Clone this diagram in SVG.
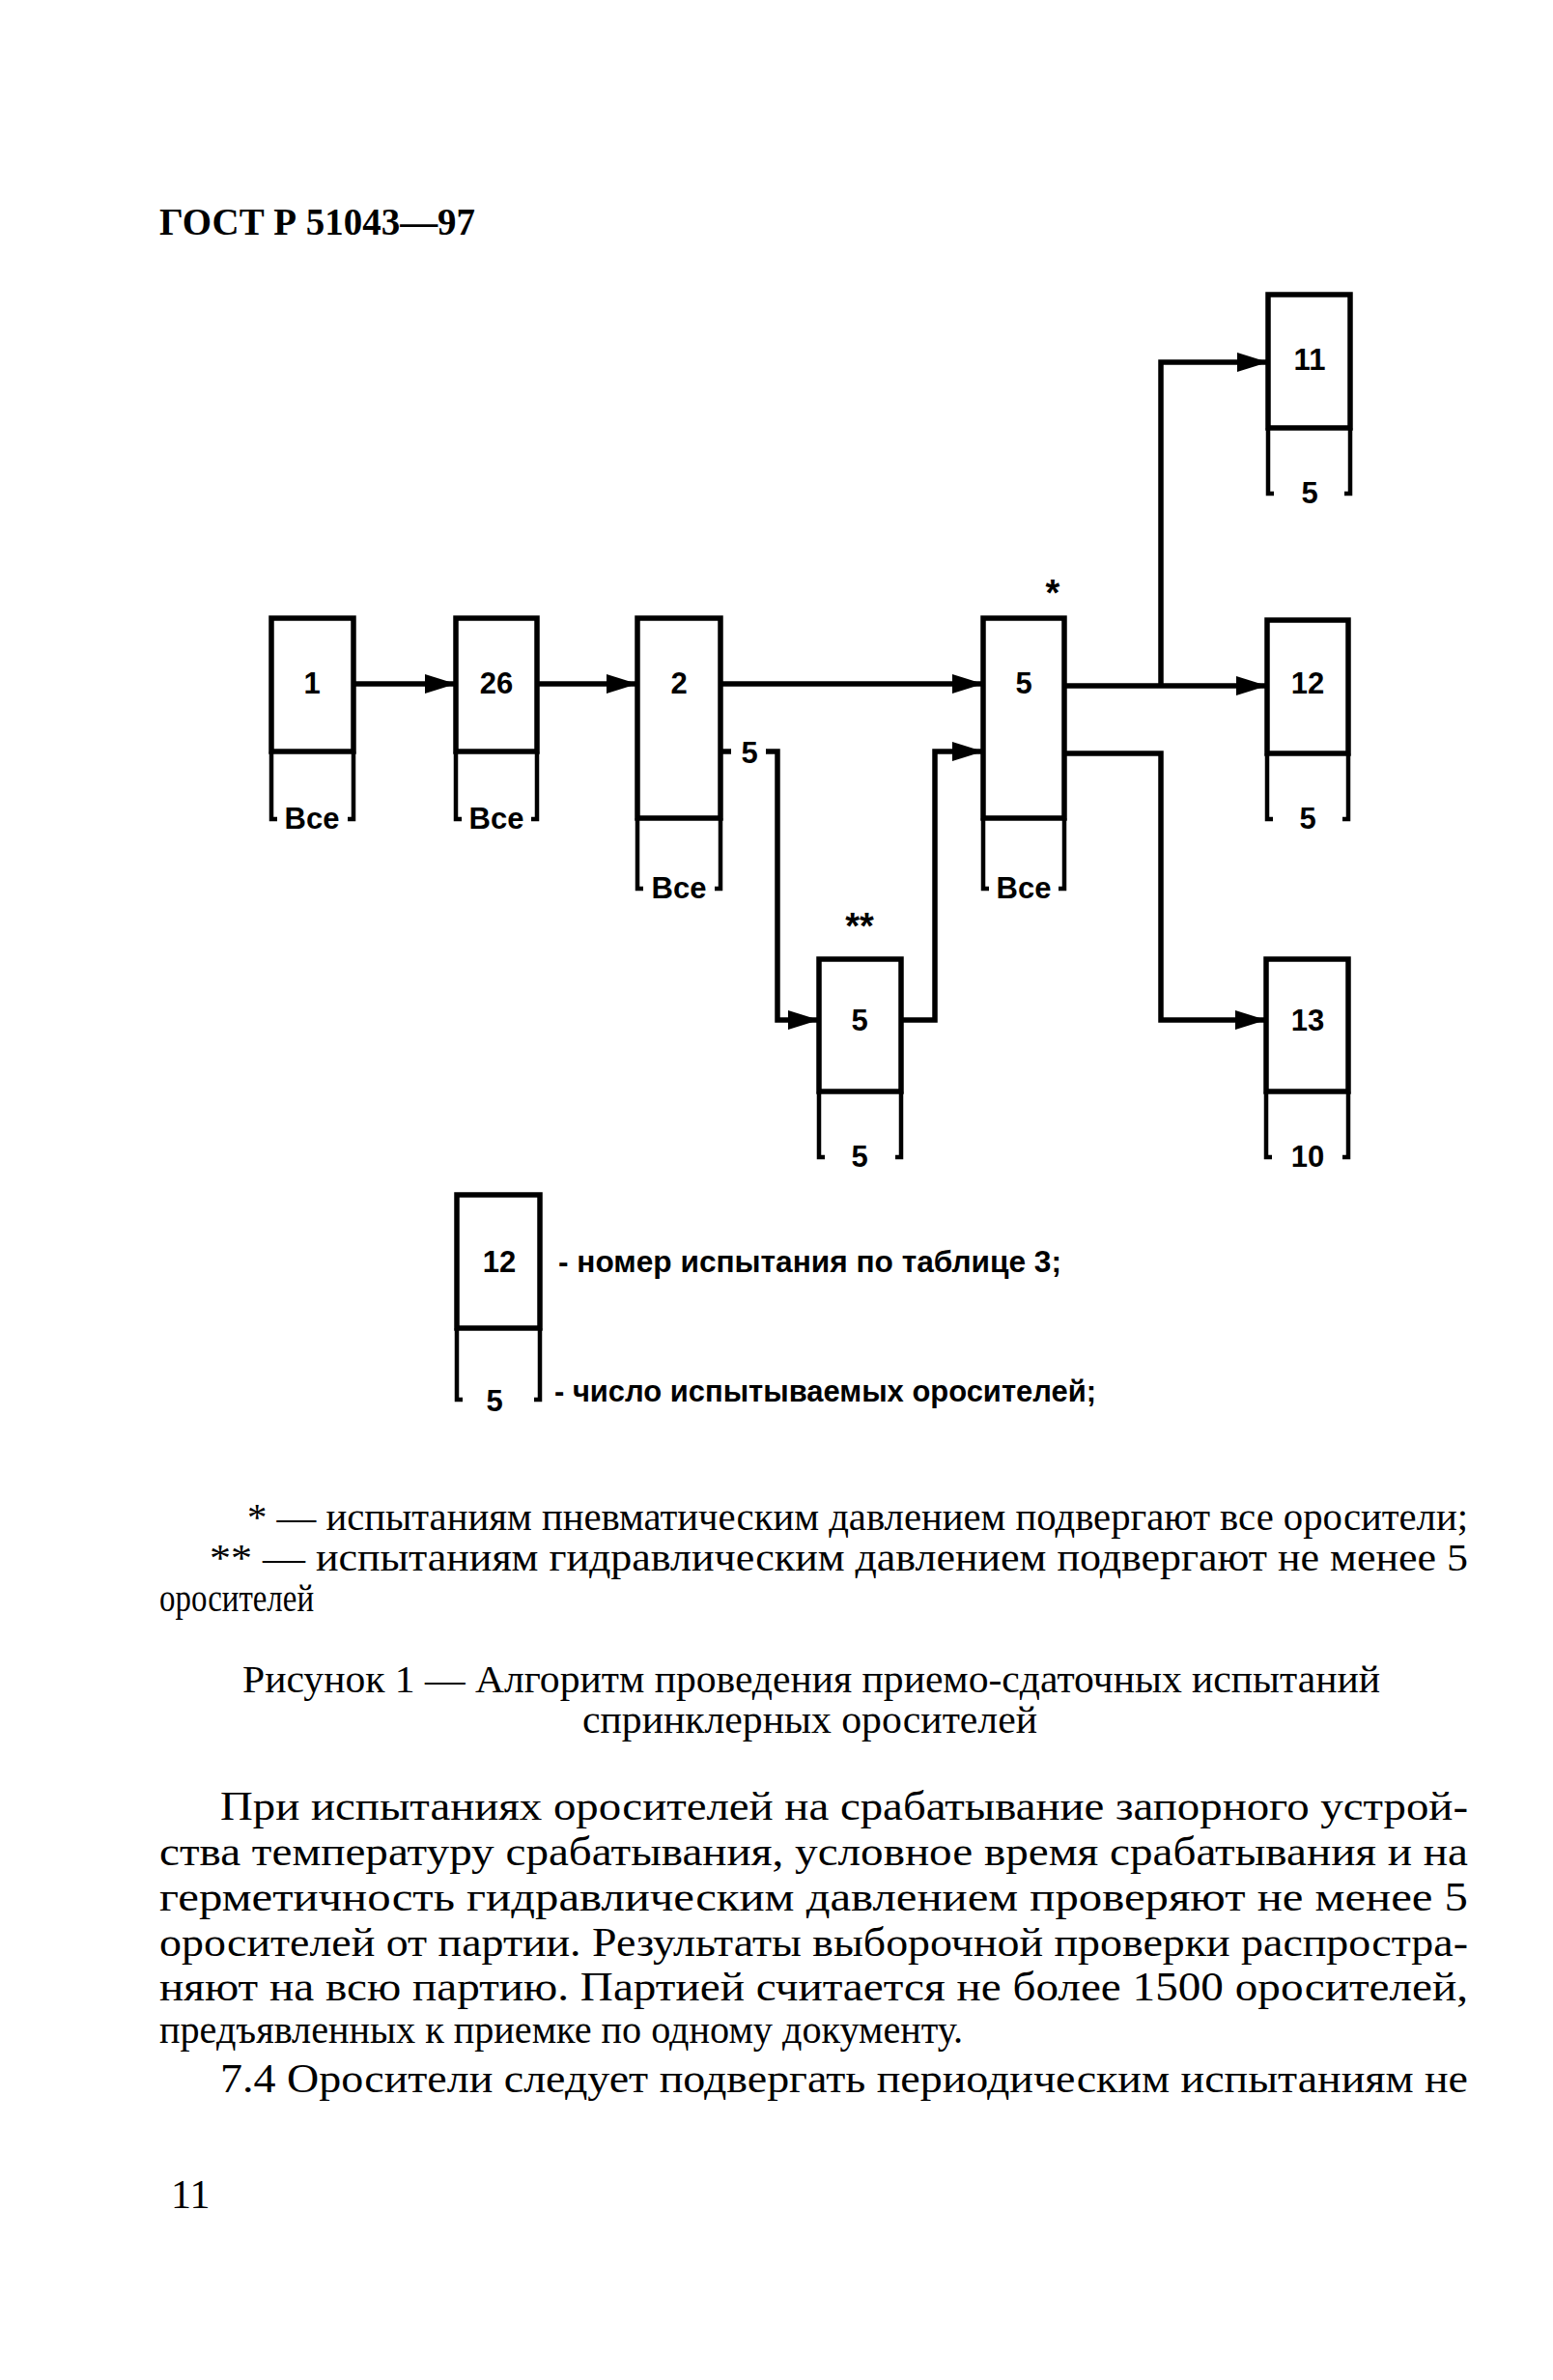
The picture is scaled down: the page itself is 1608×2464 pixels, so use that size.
<svg xmlns="http://www.w3.org/2000/svg" width="1608" height="2464" viewBox="0 0 1608 2464">
<style>
.bx{fill:none;stroke:#000;stroke-width:5.5;stroke-linejoin:miter}
.br{fill:none;stroke:#000;stroke-width:4.5}
.cn{fill:none;stroke:#000;stroke-width:5.5}
.lb{font-family:"Liberation Sans",Arial,sans-serif;font-size:31px;font-weight:bold;text-anchor:middle;fill:#000}
.lg{font-family:"Liberation Sans",Arial,sans-serif;font-size:31px;font-weight:bold;fill:#000}
.st{font-family:"Liberation Sans",Arial,sans-serif;font-size:38px;font-weight:bold;text-anchor:middle;fill:#000}
.tx{font-family:"Liberation Serif","Times New Roman",serif;font-size:42px;fill:#000}
.fn{font-family:"Liberation Serif","Times New Roman",serif;font-size:40px;fill:#000}
.hd{font-family:"Liberation Serif","Times New Roman",serif;font-size:39px;font-weight:bold;fill:#000}
</style>
<defs>
<marker id="ah" markerWidth="32" markerHeight="20" refX="32" refY="10" orient="auto" markerUnits="userSpaceOnUse"><path d="M0,0 L32,10 L0,20 Z" fill="#000"/></marker>
</defs>
<rect width="1608" height="2464" fill="#fff"/>
<text class="hd" x="165" y="243" textLength="327" lengthAdjust="spacingAndGlyphs">ГОСТ Р 51043—97</text>

<g id="connectors">
<path class="cn" d="M366,708 H472" marker-end="url(#ah)"/>
<path class="cn" d="M556,708 H660" marker-end="url(#ah)"/>
<path class="cn" d="M746,708 H1018" marker-end="url(#ah)"/>
<path class="cn" d="M746,778 H757"/>
<path class="cn" d="M793,778 H805 V1056 H848" marker-end="url(#ah)"/>
<path class="cn" d="M933,1056 H968 V778 H1018" marker-end="url(#ah)"/>
<path class="cn" d="M1102,710 H1312" marker-end="url(#ah)"/>
<path class="cn" d="M1202,710 V375 H1313" marker-end="url(#ah)"/>
<path class="cn" d="M1102,780 H1202 V1056 H1311" marker-end="url(#ah)"/>
<text class="lb" x="776" y="790">5</text>
</g>

<g id="n1">
<path class="bx" d="M281,778 V640 H366 V778 Z"/>
<path class="br" d="M281,778 V848 H287 M366,778 V848 H360"/>
<text class="lb" x="323" y="718">1</text>
<text class="lb" x="323" y="858" font-size="29">Все</text>
</g>
<g id="n26">
<path class="bx" d="M472,778 V640 H556 V778 Z"/>
<path class="br" d="M472,778 V848 H478 M556,778 V848 H550"/>
<text class="lb" x="514" y="718">26</text>
<text class="lb" x="514" y="858" font-size="29">Все</text>
</g>
<g id="n2">
<path class="bx" d="M660,847 V640 H746 V847 Z"/>
<path class="br" d="M660,847 V920 H666 M746,847 V920 H740"/>
<text class="lb" x="703" y="718">2</text>
<text class="lb" x="703" y="930" font-size="29">Все</text>
</g>
<g id="n5a">
<path class="bx" d="M1018,847 V640 H1102 V847 Z"/>
<path class="br" d="M1018,847 V920 H1024 M1102,847 V920 H1096"/>
<text class="lb" x="1060" y="718">5</text>
<text class="lb" x="1060" y="930" font-size="29">Все</text>
<text class="st" x="1090" y="627">*</text>
</g>
<g id="n5b">
<path class="bx" d="M848,1130 V993 H933 V1130 Z"/>
<path class="br" d="M848,1130 V1198 H854 M933,1130 V1198 H927"/>
<text class="lb" x="890" y="1067">5</text>
<text class="lb" x="890" y="1208">5</text>
<text class="st" x="890" y="972">**</text>
</g>
<g id="n11">
<path class="bx" d="M1313,443 V305 H1398 V443 Z"/>
<path class="br" d="M1313,443 V511 H1319 M1398,443 V511 H1392"/>
<text class="lb" x="1356" y="383">11</text>
<text class="lb" x="1356" y="521">5</text>
</g>
<g id="n12">
<path class="bx" d="M1312,780 V642 H1396 V780 Z"/>
<path class="br" d="M1312,780 V848 H1318 M1396,780 V848 H1390"/>
<text class="lb" x="1354" y="718">12</text>
<text class="lb" x="1354" y="858">5</text>
</g>
<g id="n13">
<path class="bx" d="M1311,1130 V993 H1396 V1130 Z"/>
<path class="br" d="M1311,1130 V1198 H1317 M1396,1130 V1198 H1390"/>
<text class="lb" x="1354" y="1067">13</text>
<text class="lb" x="1354" y="1208">10</text>
</g>

<g id="legend">
<path class="bx" d="M473,1375 V1237 H559 V1375 Z"/>
<path class="br" d="M473,1375 V1449 H479 M559,1375 V1449 H553"/>
<text class="lb" x="517" y="1317">12</text>
<text class="lb" x="512" y="1461">5</text>
<text class="lg" x="578" y="1317" textLength="521" lengthAdjust="spacingAndGlyphs">- номер испытания по таблице 3;</text>
<text class="lg" x="574" y="1451" textLength="561" lengthAdjust="spacingAndGlyphs">- число испытываемых оросителей;</text>
</g>

<g id="notes">
<text class="fn" x="256" y="1584" textLength="1264" lengthAdjust="spacingAndGlyphs">* — испытаниям пневматическим давлением подвергают все оросители;</text>
<text class="fn" x="217" y="1626" textLength="1303" lengthAdjust="spacingAndGlyphs">** — испытаниям гидравлическим давлением подвергают не менее 5</text>
<text class="fn" x="165" y="1668" textLength="160" lengthAdjust="spacingAndGlyphs">оросителей</text>
<text class="fn" x="251" y="1752" textLength="1178" lengthAdjust="spacingAndGlyphs">Рисунок 1 — Алгоритм проведения приемо-сдаточных испытаний</text>
<text class="fn" x="603" y="1794" textLength="471" lengthAdjust="spacingAndGlyphs">спринклерных оросителей</text>
</g>

<g id="body">
<text class="tx" x="228" y="1884" textLength="1292" lengthAdjust="spacingAndGlyphs">При испытаниях оросителей на срабатывание запорного устрой-</text>
<text class="tx" x="165" y="1931" textLength="1355" lengthAdjust="spacingAndGlyphs">ства температуру срабатывания, условное время срабатывания и на</text>
<text class="tx" x="165" y="1978" textLength="1355" lengthAdjust="spacingAndGlyphs">герметичность гидравлическим давлением проверяют не менее 5</text>
<text class="tx" x="165" y="2025" textLength="1355" lengthAdjust="spacingAndGlyphs">оросителей от партии. Результаты выборочной проверки распростра-</text>
<text class="tx" x="165" y="2071" textLength="1355" lengthAdjust="spacingAndGlyphs">няют на всю партию. Партией считается не более 1500 оросителей,</text>
<text class="tx" x="165" y="2115" textLength="832" lengthAdjust="spacingAndGlyphs">предъявленных к приемке по одному документу.</text>
<text class="tx" x="228" y="2166" textLength="1292" lengthAdjust="spacingAndGlyphs">7.4 Оросители следует подвергать периодическим испытаниям не</text>
<text class="tx" x="177" y="2286" font-size="36">11</text>
</g>
</svg>
